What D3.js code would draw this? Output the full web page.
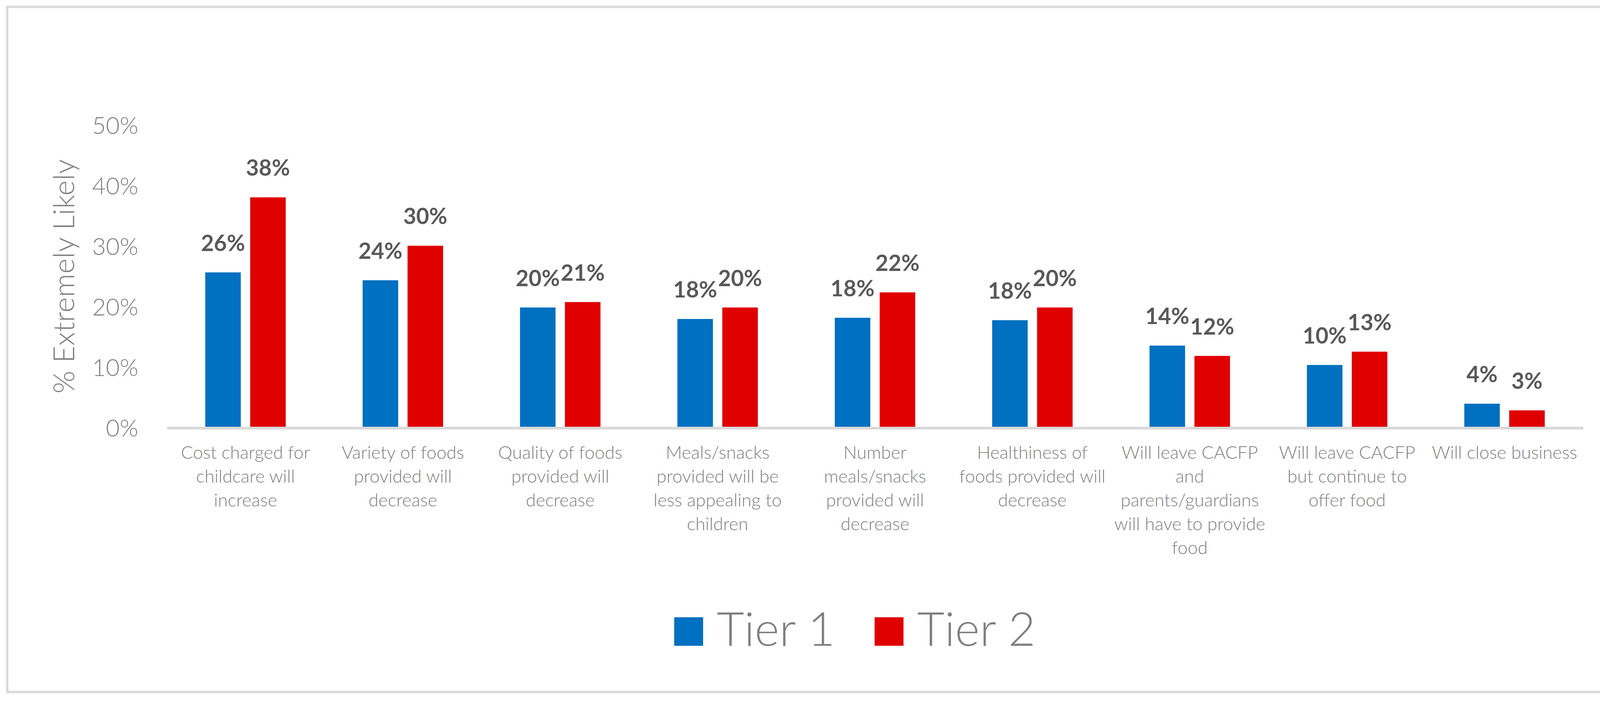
<!DOCTYPE html>
<html>
<head>
<meta charset="utf-8">
<script src="https://cdn.jsdelivr.net/npm/d3@7"></script>
<style>
  body { margin: 0; background: #fff; }
  svg { display: block; font-family: Lato, "Open Sans", sans-serif; }
</style>
</head>
<body>
<div id="chart"></div>
<script>
// categories (line breaks as in the original labels)
const categories = [
  "Cost charged for\nchildcare will\nincrease",
  "Variety of foods\nprovided will\ndecrease",
  "Quality of foods\nprovided will\ndecrease",
  "Meals/snacks\nprovided will be\nless appealing to\nchildren",
  "Number\nmeals/snacks\nprovided will\ndecrease",
  "Healthiness of\nfoods provided will\ndecrease",
  "Will leave CACFP\nand\nparents/guardians\nwill have to provide\nfood",
  "Will leave CACFP\nbut continue to\noffer food",
  "Will close business"
];
const seriesNames = ["Tier 1", "Tier 2"];
const tier1 = [25.7, 24.4, 19.9, 18.0, 18.2, 17.8, 13.6, 10.4, 4.0];
const tier2 = [38.1, 30.1, 20.8, 19.9, 22.4, 19.9, 11.9, 12.6, 2.9];
const yTicks = [0, 10, 20, 30, 40, 50];

const colors = { "Tier 1": "#0070c0", "Tier 2": "#e00000" };
const W = 4338, H = 1798;

const rows = categories.map((c, i) => ({ cat: c, values: [
  { key: "Tier 1", v: tier1[i] },
  { key: "Tier 2", v: tier2[i] }
]}));

const svg = d3.select("#chart").append("svg")
  .attr("width", W).attr("height", H);

// outer frame
svg.append("rect")
  .attr("x", 18.5).attr("y", 17.5)
  .attr("width", 4297).attr("height", 1755)
  .attr("fill", "#fff").attr("stroke", "#d9d9d9").attr("stroke-width", 6);

const x0 = d3.scaleBand().domain(categories).range([427, 4053]);
const x1 = d3.scaleBand().domain(seriesNames)
  .range([0, x0.bandwidth()]).paddingInner(0.2087).paddingOuter(0.856);
const y = d3.scaleLinear().domain([0, 50]).range([1096, 321]);

// y axis
const yAxis = svg.append("g")
  .attr("transform", "translate(427,0)")
  .call(d3.axisLeft(y).tickValues(yTicks).tickFormat(d => d + "%").tickSize(0).tickPadding(73))
  .attr("font-family", null).attr("font-size", null);
yAxis.select(".domain").remove();
yAxis.selectAll("text")
  .attr("fill", "#7f7f7f")
  .style("font-size", "61px")
  .style("font-weight", 300)
  .attr("dy", "0.36em");

// y title
svg.append("text")
  .attr("transform", "translate(190,708) rotate(-90)")
  .attr("text-anchor", "middle")
  .attr("fill", "#7f7f7f")
  .style("font-size", "75px")
  .style("font-weight", 300)
  .text("% Extremely Likely");

// bars
const groups = svg.selectAll(".grp").data(rows).join("g")
  .attr("class", "grp")
  .attr("transform", d => `translate(${x0(d.cat)},0)`);

groups.selectAll("rect").data(d => d.values).join("rect")
  .attr("x", d => x1(d.key))
  .attr("width", x1.bandwidth())
  .attr("y", d => y(d.v))
  .attr("height", d => y(0) - y(d.v))
  .attr("fill", d => colors[d.key]);

groups.selectAll("text.lbl").data(d => d.values).join("text")
  .attr("class", "lbl")
  .attr("x", d => x1(d.key) + x1.bandwidth() / 2)
  .attr("y", d => y(d.v) - 55)
  .attr("text-anchor", "middle")
  .attr("fill", "#595959")
  .style("font-size", "57px")
  .style("font-weight", "bold")
  .text(d => d3.format(".0%")(d.v / 100));

// x axis
const xAxis = svg.append("g")
  .attr("transform", "translate(0,1096)")
  .call(d3.axisBottom(x0).tickSize(0).tickFormat(""))
  .attr("font-family", null).attr("font-size", null);
xAxis.select(".domain")
  .attr("stroke", "#d9d9d9").attr("stroke-width", 7);
xAxis.selectAll(".tick text").each(function(d) {
  const t = d3.select(this).text(null)
    .attr("y", 79).attr("dy", null)
    .attr("fill", "#7f7f7f")
    .style("font-size", "46px")
    .style("font-weight", 300);
  d.split("\n").forEach((line, i) => {
    t.append("tspan").attr("x", 0).attr("y", 79 + i * 61).text(line);
  });
});

// legend
const legendX = [1726, 2239];
const legend = svg.selectAll(".leg").data(seriesNames).join("g")
  .attr("class", "leg")
  .attr("transform", (d, i) => `translate(${legendX[i]},1581)`);
legend.append("rect")
  .attr("width", 74).attr("height", 73)
  .attr("fill", d => colors[d]);
legend.append("text")
  .attr("x", 109).attr("y", 73)
  .attr("fill", "#7f7f7f")
  .style("font-size", "121px")
  .style("font-weight", 300)
  .text(d => d);
</script>
</body>
</html>
